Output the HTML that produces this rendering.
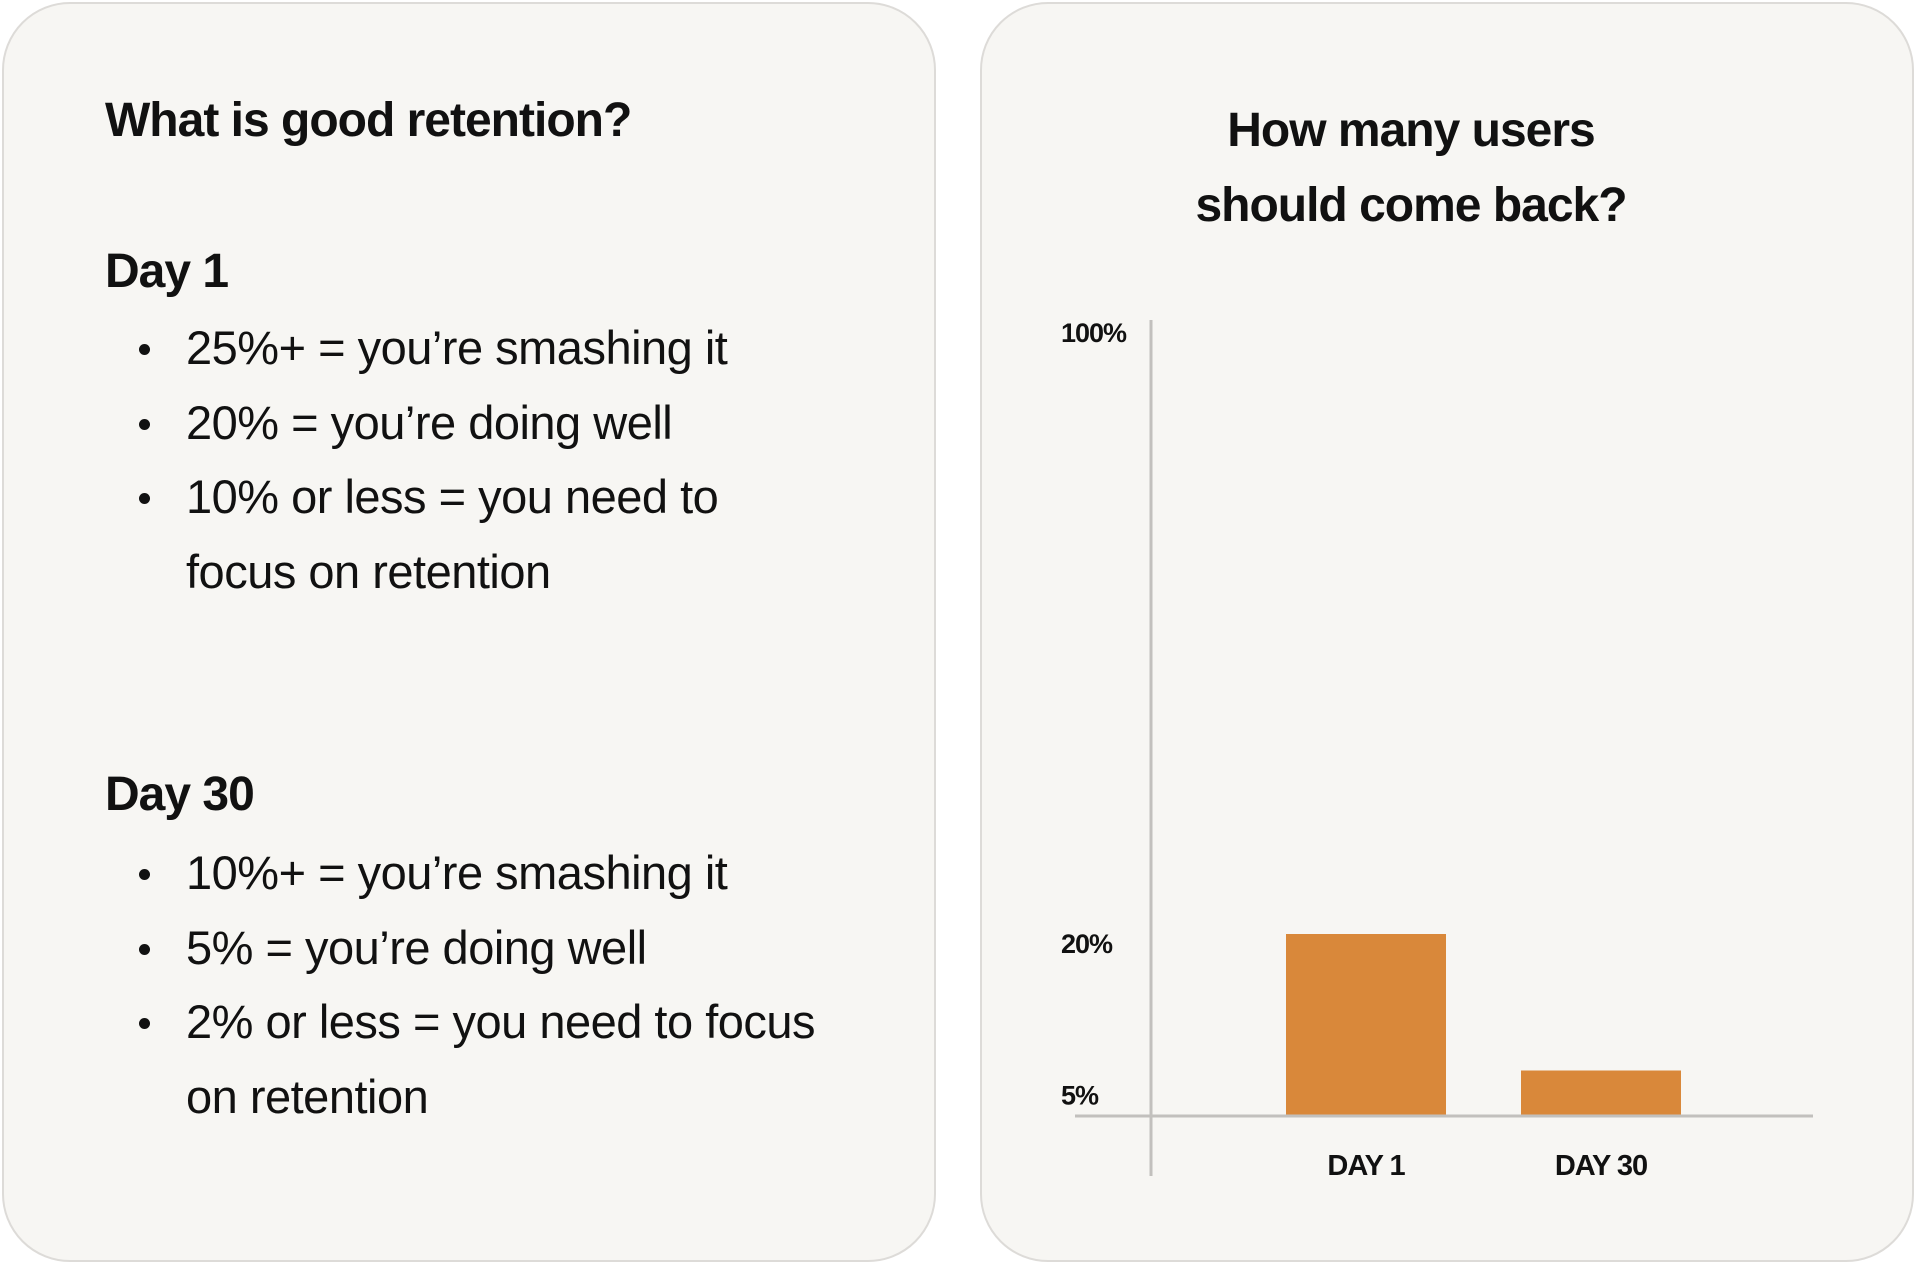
<!DOCTYPE html>
<html><head><meta charset="utf-8">
<style>
html,body{margin:0;padding:0;background:#fff;width:1916px;height:1264px;overflow:hidden;font-family:"Liberation Sans",sans-serif;color:#111;}
.card{position:absolute;background:#f7f6f3;border:2px solid #dddbd8;border-radius:68px;box-sizing:border-box;}
.t{position:absolute;white-space:nowrap;}
.h{font-weight:bold;font-size:48px;letter-spacing:-1px;}
.b{font-size:47px;letter-spacing:-0.5px;}
.dot{position:absolute;width:11px;height:11px;border-radius:50%;background:#111;}
</style></head><body>
<div class="card" style="left:2px;top:2px;width:934px;height:1260px;"></div>
<div class="card" style="left:980px;top:2px;width:934px;height:1260px;"></div>

<div class="t h" style="left:105px;top:93px;">What is good retention?</div>
<div class="t h" style="left:105px;top:244px;">Day 1</div>
<div id="l1"></div>
<div class="t h" style="left:105px;top:767px;">Day 30</div>

<div class="t h" style="left:1111px;width:600px;text-align:center;top:93px;line-height:75px;white-space:normal;">How many users<br>should come back?</div>

<svg id="chart" width="1916" height="1264" style="position:absolute;left:0;top:0;"></svg>

<script>
const categories=["DAY 1","DAY 30"];
const values=[20,5];
const tickValues=[100,20,5];
const tickLabels=["100%","20%","5%"];

const bullets1=["25%+ = you’re smashing it","20% = you’re doing well","10% or less = you need to","focus on retention"];
const bullets30=["10%+ = you’re smashing it","5% = you’re doing well","2% or less = you need to focus","on retention"];
function addBullets(list,top,noDot){
  list.forEach((s,i)=>{
    const y=top+i*74.6;
    const d=document.createElement('div');
    d.className='t b';
    
    
    d.style.left='186px';d.style.top=(y-28)+'px';d.textContent=s;
    document.body.appendChild(d);
    if(i!==noDot){
      const o=document.createElement('div');
      o.className='dot';
      
      
      o.style.left='139px';o.style.top=(y-4)+'px';
      document.body.appendChild(o);
    }
  });
}
addBullets(bullets1,348,3);
addBullets(bullets30,873,3);

const svg=document.getElementById('chart');
const NS='http://www.w3.org/2000/svg';
const base=1116, axisTop=320;
function y(v){ return v<=20 ? base-v*9.1 : (base-20*9.1)-(v-20)*((base-20*9.1-axisTop)/80); }
function x(i){ return 1366+i*235; }
const bw=160;
function mk(tag,attrs){const e=document.createElementNS(NS,tag);for(const k in attrs)e.setAttribute(k,attrs[k]);svg.appendChild(e);return e;}

values.forEach((v,i)=>{
  const r=mk('rect',{x:x(i)-bw/2,y:y(v),width:bw,height:base-y(v),fill:'#d9883a'});
  
  
  const t=mk('text',{x:x(i),y:1175,'text-anchor':'middle','font-size':29,'font-weight':'bold','font-family':'Liberation Sans, sans-serif',fill:'#111','letter-spacing':'-1'});
  t.textContent=categories[i];
  
  
});
const ya=mk('line',{x1:1151,y1:axisTop,x2:1151,y2:1176,stroke:'#c2c0bd','stroke-width':3});


const xa=mk('line',{x1:1075,y1:base,x2:1813,y2:base,stroke:'#c2c0bd','stroke-width':3});


tickValues.forEach((v,i)=>{
  const off = v>=100 ? 22 : (v>=20 ? 19 : 34);
  const t=mk('text',{x:1061,y:y(v)+off,'font-size':27,'font-weight':'bold','font-family':'Liberation Sans, sans-serif',fill:'#111','letter-spacing':'-1'});
  t.textContent=tickLabels[i];
  
  
});
</script>
</body></html>
